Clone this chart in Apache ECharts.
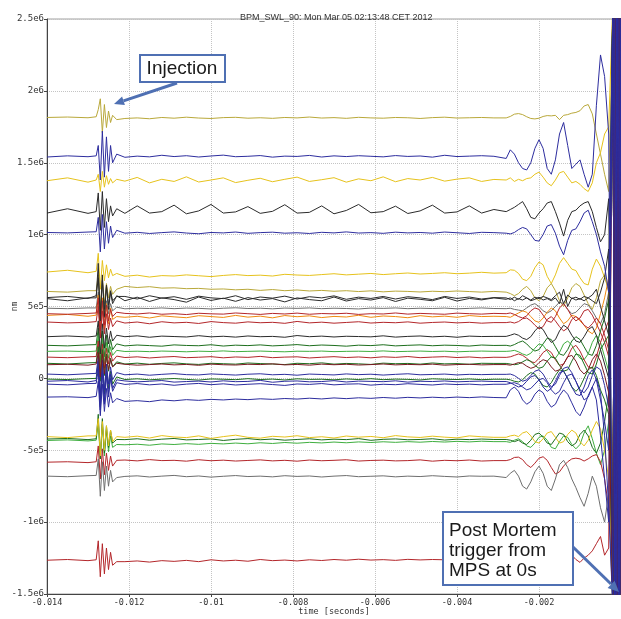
<!DOCTYPE html>
<html>
<head>
<meta charset="utf-8">
<title>BPM_SWL_90</title>
<script src="https://cdn.jsdelivr.net/npm/echarts@6/dist/echarts.min.js"></script>
<style>
  html, body { margin: 0; padding: 0; background: #fff; }
  #bpm-chart { width: 621px; height: 619px; }
</style>
</head>
<body>
<div id="bpm-chart"></div>
<script>
// time axis (seconds): before injection | injection | flat part | blow-up | post mortem band
const times = [
  -0.014, -0.0135, -0.013,
  -0.0128, -0.01275, -0.0127, -0.01265, -0.0126, -0.01255, -0.0125, -0.01245, -0.0124, -0.0123,
  -0.0121, -0.0118, -0.0115, -0.0112, -0.0109, -0.0106, -0.0103, -0.0100, -0.0097, -0.0094,
  -0.0091, -0.0088, -0.0085, -0.0082, -0.0079, -0.0076, -0.0073, -0.0070, -0.0067, -0.0064,
  -0.0061, -0.0058, -0.0055, -0.0052, -0.0049, -0.0046, -0.0043, -0.0040, -0.0037, -0.0034, -0.0031,
  -0.0028, -0.0027, -0.0026, -0.0025, -0.0024, -0.0023, -0.0022, -0.0021, -0.0020, -0.0019,
  -0.0018, -0.0017, -0.0016, -0.0015, -0.0014, -0.0013, -0.0012, -0.0011, -0.0010, -0.0009,
  -0.0008, -0.0007, -0.0006, -0.0005, -0.0004, -0.0003,
  -0.0002, -0.00015, -0.0001, -0.00005, 0
];

// BPM readings in thousands of nm
const oliveTop = [
  1815, 1818, 1813,
  1820, 1870, 1945, 1710, 1905, 1745, 1860, 1780, 1830, 1800,
  1808, 1812, 1806, 1815, 1810, 1817, 1811, 1808, 1814, 1816,
  1810, 1813, 1809, 1815, 1812, 1818, 1811, 1814, 1809, 1816,
  1812, 1810, 1815, 1813, 1808, 1814, 1817, 1811, 1813, 1815, 1812,
  1812, 1822, 1838, 1842, 1835, 1820, 1808, 1805, 1810, 1822,
  1828, 1826, 1830, 1800, 1830, 1835, 1845, 1850, 1862, 1895,
  1905, 1840, 1700, 1560, 1420, 1300,
  2600, -1600, 2600, -1600, 2600
];
const blueTop = [
  1540, 1548, 1542,
  1548, 1620, 1380, 1720, 1400, 1680, 1440, 1620, 1500, 1560,
  1538, 1546, 1541, 1552, 1543, 1549, 1540, 1547, 1553, 1542,
  1545, 1550, 1539, 1546, 1544, 1551, 1540, 1548, 1543, 1549,
  1545, 1541, 1550, 1544, 1547, 1539, 1552, 1543, 1546, 1549, 1545,
  1530, 1590, 1560, 1500, 1460, 1450, 1500, 1600, 1660, 1600,
  1460, 1420, 1520, 1700, 1780, 1620, 1460, 1490, 1520, 1420,
  1330, 1420, 1900, 2250, 2100, 1700,
  -1600, 2600, -1600, 2600, -1600
];
const yellowTop = [
  1375, 1395, 1365,
  1380, 1420, 1300, 1440, 1330, 1410, 1350, 1390, 1360, 1385,
  1372, 1398, 1360, 1385, 1370, 1402, 1366, 1380, 1395, 1362,
  1378, 1392, 1368, 1385, 1400, 1370, 1382, 1396, 1365, 1388,
  1375, 1402, 1368, 1390, 1380, 1398, 1372, 1386, 1395, 1370, 1384,
  1380, 1395, 1370, 1385, 1375, 1390, 1395, 1420, 1435, 1400,
  1360, 1340, 1380, 1430, 1440, 1400, 1360, 1370, 1350, 1320,
  1300, 1360, 1500, 1570, 1700, 1750,
  2600, -1600, 2600, -1600, 2600
];
const blackTop = [
  1150, 1180, 1148,
  1160, 1290, 1030, 1300, 1050, 1250, 1090, 1200, 1130, 1180,
  1148, 1200, 1150, 1160, 1205, 1145, 1165, 1210, 1150, 1158,
  1195, 1148, 1162, 1208, 1150, 1155, 1200, 1145, 1168, 1210,
  1152, 1160, 1198, 1147, 1165, 1205, 1150, 1158, 1200, 1150, 1175,
  1160, 1175, 1190, 1210, 1230, 1180, 1120, 1110, 1150, 1180,
  1220, 1230, 1160, 1080, 990, 1100, 1160, 1170, 1200, 1220,
  1230, 1160, 1050, 950, 1000, 1250,
  -1600, 2600, -1600, 2600, -1600
];
const blue1e6 = [
  1015, 1012, 1018,
  1020, 1120, 880, 1140, 900, 1090, 940, 1060, 980, 1030,
  1010, 1016, 1008, 1014, 1019, 1011, 1006, 1015, 1012, 1018,
  1009, 1014, 1017, 1010, 1013, 1008, 1016, 1012, 1019, 1011,
  1014, 1009, 1017, 1012, 1015, 1010, 1018, 1013, 1008, 1016, 1014,
  1010, 1005, 1015, 1035, 1050, 1040, 1000, 960, 955, 1000,
  1060, 1070, 1010, 920, 860, 960, 1030, 1040, 1090, 1150,
  1170, 1090, 1000, 880, 780, 600,
  2600, -1600, 2600, -1600, 2600
];
const yellow740 = [
  740, 752, 735,
  745, 870, 620, 820, 680, 790, 700, 760, 715, 730,
  710, 718, 705, 715, 712, 720, 714, 708, 716, 722,
  715, 718, 712, 724, 719, 716, 722, 728, 720, 725,
  730, 722, 728, 733, 726, 730, 735, 728, 732, 738, 732,
  735, 755, 752, 730, 690, 680, 710, 770, 810, 790,
  710, 660, 720, 800, 840, 800, 760, 750, 700, 660,
  650, 760, 830, 780, 700, 620,
  -1600, 2600, -1600, 2600, -1600
];
const olive605 = [
  605, 600, 610,
  610, 720, 490, 700, 520, 660, 560, 640, 585, 620,
  640, 632, 638, 628, 630, 624, 626, 620, 622, 616,
  620, 612, 618, 610, 615, 608, 612, 606, 610, 604,
  609, 602, 607, 605, 601, 606, 603, 608, 604, 600, 605,
  600, 590, 575, 590, 620, 640, 610, 560, 540, 570,
  630, 660, 610, 540, 500, 560, 630, 660, 640, 580,
  520, 480, 560, 680, 720, 600,
  2600, -1600, 2600, -1600, 2600
];
const black550 = [
  555, 540, 560,
  560, 800, 400, 720, 430, 650, 480, 600, 520, 575,
  540, 565, 535, 560, 548, 530, 566, 542, 558, 536,
  562, 545, 555, 532, 560, 548, 540, 566, 538, 555,
  545, 562, 535, 558, 550, 540, 564, 538, 556, 546, 560,
  550, 560, 540, 555, 545, 560, 540, 550, 565, 545,
  555, 540, 560, 520, 620, 500, 560, 545, 555, 540,
  560, 580, 620, 500, 400, 300,
  2600, -1600, 2600, -1600, 2600
];
const black560 = [
  562, 570, 556,
  575, 700, 450, 680, 480, 640, 510, 610, 540, 570,
  570, 552, 575, 558, 568, 550, 572, 560, 555, 575,
  548, 566, 558, 572, 552, 568, 560, 574, 550, 565,
  556, 570, 552, 568, 560, 548, 570, 556, 566, 552, 562,
  560, 548, 565, 550, 575, 560, 545, 565, 555, 570,
  560, 548, 575, 600, 520, 580, 555, 565, 550, 570,
  560, 540, 520, 600, 700, 900,
  -1600, 2600, -1600, 2600, -1600
];
const grey487 = [
  488, 485, 490,
  490, 600, 380, 560, 420, 540, 450, 520, 470, 495,
  484, 488, 486, 490, 485, 489, 487, 483, 488, 491,
  486, 488, 484, 489, 487, 490, 485, 488, 486, 483,
  489, 487, 490, 485, 488, 486, 489, 484, 487, 490, 486,
  485, 488, 480, 475, 470, 490, 510, 520, 500, 470,
  455, 470, 500, 530, 520, 480, 450, 460, 490, 520,
  510, 470, 420, 380, 450, 600,
  2600, -1600, 2600, -1600, 2600
];
const orange430 = [
  438, 445, 432,
  440, 580, 300, 560, 340, 520, 380, 490, 410, 430,
  425, 432, 420, 435, 428, 422, 436, 430, 424, 438,
  426, 433, 421, 437, 429, 435, 423, 431, 427, 439,
  425, 434, 430, 422, 436, 428, 433, 425, 437, 430, 432,
  430, 425, 440, 455, 470, 460, 430, 400, 390, 420,
  460, 490, 470, 420, 380, 400, 440, 430, 400, 370,
  330, 310, 350, 450, 560, 700,
  -1600, 2600, -1600, 2600, -1600
];
const red450 = [
  450, 446, 452,
  455, 560, 330, 540, 370, 510, 400, 480, 430, 460,
  452, 448, 455, 446, 450, 444, 453, 449, 447, 455,
  450, 445, 452, 448, 454, 446, 451, 449, 453, 445,
  450, 448, 455, 447, 452, 449, 446, 454, 450, 447, 452,
  450, 455, 445, 430, 420, 435, 470, 490, 480, 440,
  400, 390, 430, 490, 520, 480, 430, 400, 420, 470,
  480, 440, 380, 320, 250, 150,
  2600, -1600, 2600, -1600, 2600
];
const red390 = [
  392, 386, 390,
  395, 500, 280, 470, 310, 450, 340, 420, 360, 400,
  385, 392, 380, 394, 386, 390, 382, 395, 388, 384,
  393, 387, 390, 383, 396, 386, 391, 384, 389, 394,
  385, 390, 387, 393, 384, 389, 392, 386, 390, 384, 388,
  388, 392, 385, 395, 415, 420, 400, 370, 345, 360,
  410, 430, 400, 360, 330, 350, 410, 430, 410, 370,
  350, 380, 420, 380, 300, 200,
  -1600, 2600, -1600, 2600, -1600
];
const black292 = [
  290, 295, 288,
  295, 400, 170, 380, 210, 350, 240, 330, 260, 300,
  290, 296, 286, 294, 291, 288, 297, 289, 293, 287,
  295, 290, 292, 286, 298, 290, 294, 288, 293, 291,
  289, 296, 287, 292, 295, 289, 293, 286, 294, 291, 292,
  292, 300, 310, 300, 280, 270, 290, 330, 360, 340,
  290, 250, 270, 330, 370, 350, 300, 260, 250, 290,
  340, 360, 300, 200, 100, 0,
  2600, -1600, 2600, -1600, 2600
];
const dkgreen229 = [
  230, 226, 233,
  235, 350, 110, 330, 150, 300, 180, 270, 200, 240,
  226, 232, 228, 224, 233, 229, 227, 234, 225, 231,
  228, 233, 226, 230, 235, 227, 232, 229, 224, 231,
  228, 234, 226, 230, 233, 227, 231, 229, 225, 232, 229,
  230, 225, 235, 250, 260, 240, 210, 190, 200, 240,
  280, 270, 220, 170, 160, 200, 260, 290, 270, 220,
  170, 160, 230, 330, 420, 550,
  -1600, 2600, -1600, 2600, -1600
];
const green188 = [
  188, 190, 186,
  190, 300, 60, 280, 100, 250, 140, 220, 160, 195,
  187, 189, 186, 190, 188, 185, 189, 187, 191, 186,
  188, 190, 187, 185, 189, 188, 190, 186, 188, 189,
  187, 191, 186, 188, 190, 187, 189, 185, 188, 190, 188,
  188, 190, 195, 185, 170, 160, 175, 210, 240, 230,
  190, 150, 140, 180, 240, 260, 230, 180, 140, 130,
  170, 250, 300, 250, 150, 50,
  2600, -1600, 2600, -1600, 2600
];
const red146 = [
  148, 144, 150,
  152, 260, 30, 240, 70, 210, 100, 180, 120, 155,
  145, 150, 142, 148, 152, 144, 147, 151, 143, 149,
  146, 153, 144, 148, 150, 142, 147, 151, 145, 149,
  143, 150, 146, 152, 144, 148, 151, 145, 149, 143, 147,
  146, 150, 160, 170, 160, 140, 115, 110, 140, 180,
  200, 180, 130, 90, 100, 150, 210, 230, 190, 130,
  80, 70, 150, 250, 330, 400,
  -1600, 2600, -1600, 2600, -1600
];
const dkgreen104 = [
  105, 100, 108,
  110, 220, -20, 200, 20, 170, 50, 140, 80, 115,
  100, 106, 98, 104, 108, 101, 97, 105, 102, 99,
  107, 103, 100, 96, 105, 102, 108, 99, 104, 101,
  97, 106, 102, 104, 99, 107, 101, 103, 98, 105, 104,
  104, 100, 95, 100, 115, 130, 120, 90, 70, 80,
  120, 150, 140, 90, 50, 60, 120, 170, 160, 100,
  40, 30, 100, 200, 250, 300,
  2600, -1600, 2600, -1600, 2600
];
const dkred96 = [
  95, 98, 92,
  100, 180, 10, 170, 30, 150, 60, 130, 80, 105,
  98, 92, 96, 100, 94, 97, 91, 99, 95, 93,
  98, 96, 101, 94, 97, 92, 99, 95, 98, 93,
  96, 100, 94, 97, 95, 99, 92, 96, 98, 94, 96,
  96, 92, 100, 110, 105, 85, 70, 80, 110, 130,
  120, 80, 50, 60, 100, 150, 160, 120, 60, 30,
  60, 130, 170, 120, 20, -100,
  -1600, 2600, -1600, 2600, -1600
];
const blue28 = [
  30, 25, 32,
  35, 150, -120, 130, -80, 100, -40, 80, -10, 40,
  25, 30, 22, 28, 33, 26, 24, 31, 27, 23,
  29, 32, 25, 28, 22, 30, 27, 24, 31, 26,
  29, 23, 28, 32, 25, 27, 30, 24, 28, 26, 28,
  28, 30, 20, 0, -20, -10, 20, 50, 60, 30,
  -20, -60, -40, 20, 70, 80, 40, -20, -80, -100,
  -60, 20, 80, 60, -50, -200,
  2600, -1600, 2600, -1600, 2600
];
const dkgreenZero = [
  -5, -8, -2,
  0, 120, -150, 100, -110, 80, -70, 50, -40, 10,
  -8, -3, -10, -5, -1, -7, -12, -4, -6, -9,
  -2, -8, -5, -11, -3, -7, -6, -10, -4, -8,
  -2, -9, -5, -7, -11, -3, -6, -8, -4, -9, -6,
  -6, -10, -20, -25, -10, 20, 40, 30, -10, -50,
  -60, -30, 20, 60, 50, 0, -60, -90, -60, 0,
  60, 80, 20, -80, -150, -250,
  -1600, 2600, -1600, 2600, -1600
];
const blueMinus20 = [
  -20, -15, -25,
  -15, 100, -200, 80, -160, 60, -110, 30, -70, -10,
  -18, -24, -20, -15, -26, -22, -19, -25, -17, -23,
  -21, -14, -27, -20, -18, -24, -22, -16, -25, -19,
  -21, -23, -17, -26, -20, -22, -18, -24, -21, -19, -22,
  -22, -30, -45, -60, -50, -20, 10, 20, -10, -60,
  -90, -70, -20, 40, 50, 0, -60, -110, -120, -60,
  20, 60, -10, -150, -300, -500,
  2600, -1600, 2600, -1600, 2600
];
const blueMinus40 = [
  -40, -45, -36,
  -35, 60, -220, 40, -180, 20, -130, 0, -90, -30,
  -42, -36, -45, -39, -48, -40, -35, -44, -38, -46,
  -41, -37, -43, -49, -39, -42, -36, -45, -40, -38,
  -47, -41, -44, -37, -42, -46, -39, -43, -40, -45, -41,
  -41, -35, -30, -40, -60, -80, -70, -40, -10, 0,
  -30, -80, -110, -90, -30, 20, 30, -20, -90, -150,
  -130, -60, 0, -100, -400, -900,
  -1600, 2600, -1600, 2600, -1600
];
const blueMinus135 = [
  -130, -128, -134,
  -125, -20, -260, -40, -230, -70, -200, -100, -170, -140,
  -160, -155, -162, -150, -156, -148, -153, -146, -150, -144,
  -148, -142, -146, -140, -144, -138, -143, -136, -141, -135,
  -139, -133, -138, -132, -136, -131, -135, -130, -134, -129, -133,
  -135, -80, -60, -90, -150, -180, -160, -110, -80, -100,
  -160, -200, -180, -120, -80, -110, -170, -230, -260, -200,
  -120, -60, -150, -400, -700, -1000,
  2600, -1600, 2600, -1600, 2600
];
const yellowMinus410 = [
  -405, -412, -400,
  -400, -280, -540, -300, -500, -330, -470, -360, -440, -405,
  -410, -402, -415, -398, -408, -412, -400, -418, -405, -395,
  -410, -416, -403, -408, -399, -412, -406, -415, -401, -409,
  -404, -413, -398, -407, -411, -402, -409, -414, -400, -406, -410,
  -410, -400, -395, -405, -380, -370, -400, -440, -450, -420,
  -380, -370, -410, -450, -440, -390, -360, -380, -440, -470,
  -430, -360, -300, -350, -500, -700,
  -1600, 2600, -1600, 2600, -1600
];
const dkgreenMinus425 = [
  -422, -418, -426,
  -420, -250, -560, -280, -520, -330, -480, -360, -450, -425,
  -426, -420, -430, -423, -418, -428, -425, -421, -432, -424,
  -419, -427, -422, -430, -425, -420, -428, -423, -426, -419,
  -431, -424, -421, -427, -425, -420, -429, -423, -426, -422, -425,
  -425, -430, -440, -430, -450, -460, -430, -390, -380, -410,
  -450, -460, -420, -380, -390, -440, -470, -450, -390, -360,
  -400, -480, -520, -450, -300, -100,
  2600, -1600, 2600, -1600, 2600
];
const greenMinus445 = [
  -432, -428, -435,
  -430, -300, -560, -320, -540, -360, -510, -400, -480, -460,
  -462, -458, -465, -456, -460, -454, -459, -452, -456, -450,
  -455, -448, -453, -446, -451, -445, -449, -443, -448, -442,
  -446, -441, -445, -440, -444, -439, -443, -438, -442, -437, -440,
  -440, -445, -430, -420, -440, -470, -480, -450, -410, -400,
  -430, -480, -490, -440, -400, -410, -460, -490, -460, -380,
  -330, -420, -520, -600, -500, -300,
  -1600, 2600, -1600, 2600, -1600
];
const redMinus575 = [
  -583, -580, -586,
  -580, -470, -700, -490, -670, -520, -640, -540, -610, -570,
  -568, -574, -565, -572, -570, -576, -566, -573, -569, -575,
  -571, -567, -574, -570, -576, -568, -573, -570, -566, -575,
  -571, -569, -574, -572, -567, -576, -570, -573, -568, -575, -572,
  -572, -565, -550, -548, -565, -600, -620, -590, -555, -545,
  -570, -620, -665, -650, -610, -580, -560, -555, -560, -575,
  -560, -540, -530, -580, -700, -900,
  2600, -1600, 2600, -1600, 2600
];
const greyMinus680 = [
  -680, -684, -677,
  -675, -560, -820, -580, -780, -610, -750, -640, -720, -690,
  -682, -678, -686, -680, -675, -684, -679, -687, -681, -676,
  -683, -680, -685, -677, -682, -679, -686, -680, -676, -684,
  -681, -678, -685, -680, -683, -677, -682, -686, -679, -681, -680,
  -690, -660, -640, -680, -750, -770, -720, -650, -610, -660,
  -750, -780, -700, -600, -570, -620, -700, -760, -830, -890,
  -800, -680, -750, -900, -1000, -800,
  -1600, 2600, -1600, 2600, -1600
];
const redBottom = [
  -1265, -1260, -1268,
  -1262, -1130, -1380, -1150, -1360, -1180, -1330, -1210, -1300, -1275,
  -1275, -1270, -1278, -1268, -1273, -1266, -1275, -1262, -1270, -1265,
  -1272, -1260, -1268, -1264, -1270, -1262, -1267, -1260, -1265, -1258,
  -1264, -1261, -1266, -1259, -1263, -1260, -1262, -1258, -1264, -1260, -1262,
  -1262, -1258, -1265, -1260, -1255, -1262, -1258, -1265, -1260, -1256,
  -1262, -1268, -1260, -1240, -1225, -1210, -1230, -1260, -1280, -1250,
  -1230, -1200, -1150, -1100, -1230, -1180,
  2600, -1600, 2600, -1600, 2600
];

const OLIVE = "#b9a83a", YELLOW = "#e6c21c", BLUE = "#2d2d9e", BLACK = "#2b2b2b",
  GREY = "#6e6e6e", RED = "#b3262a", DKRED = "#7a1a22", ORANGE = "#ef8a10",
  GREEN = "#3fae3f", DKGREEN = "#1d6e1d";

// drawing order: dark traces last so they sit on top in the post mortem band
const traces = [
  {name: "oliveTop", color: OLIVE, data: oliveTop},
  {name: "yellowTop", color: YELLOW, data: yellowTop},
  {name: "yellow740", color: YELLOW, data: yellow740},
  {name: "olive605", color: OLIVE, data: olive605},
  {name: "grey487", color: GREY, data: grey487},
  {name: "orange430", color: ORANGE, data: orange430},
  {name: "red450", color: RED, data: red450},
  {name: "red390", color: RED, data: red390},
  {name: "dkgreen229", color: DKGREEN, data: dkgreen229},
  {name: "green188", color: GREEN, data: green188},
  {name: "red146", color: RED, data: red146},
  {name: "dkgreen104", color: DKGREEN, data: dkgreen104},
  {name: "dkgreenZero", color: DKGREEN, data: dkgreenZero},
  {name: "greenMinus445", color: GREEN, data: greenMinus445},
  {name: "dkgreenMinus425", color: DKGREEN, data: dkgreenMinus425},
  {name: "yellowMinus410", color: YELLOW, data: yellowMinus410},
  {name: "redMinus575", color: RED, data: redMinus575},
  {name: "greyMinus680", color: GREY, data: greyMinus680},
  {name: "redBottom", color: RED, data: redBottom},
  {name: "black292", color: BLACK, data: black292},
  {name: "blue28", color: BLUE, data: blue28},
  {name: "black550", color: BLACK, data: black550},
  {name: "blueMinus20", color: BLUE, data: blueMinus20},
  {name: "blueMinus40", color: BLUE, data: blueMinus40},
  {name: "black560", color: BLACK, data: black560},
  {name: "blueMinus135", color: BLUE, data: blueMinus135},
  {name: "blackTop", color: BLACK, data: blackTop},
  {name: "blue1e6", color: BLUE, data: blue1e6},
  {name: "dkred96", color: DKRED, data: dkred96},
  {name: "blueTop", color: BLUE, data: blueTop}
];

traces.forEach((tr) => {
  if (tr.data.length !== times.length) {
    console.error("length mismatch", tr.name, tr.data.length, times.length);
  }
});

const BOX = "#4f70b3";
const MONO = "'DejaVu Sans Mono', monospace";
const SANS = "'Liberation Sans', Arial, sans-serif";

const chart = echarts.init(document.getElementById("bpm-chart"));

const option = {
  animation: false,
  backgroundColor: "#ffffff",
  title: {
    text: "BPM_SWL_90: Mon Mar 05 02:13:48 CET 2012",
    left: 235,
    top: 8,
    textStyle: {fontSize: 9, fontWeight: "normal", color: "#333", fontFamily: SANS}
  },
  grid: {
    left: 47, right: 0, top: 19, bottom: 25,
    containLabel: false,
    outerBoundsMode: "none",
    show: true, borderColor: "#a0a0a0", borderWidth: 1
  },
  xAxis: {
    type: "value",
    min: -0.014,
    max: 0,
    interval: 0.002,
    name: "time [seconds]",
    nameLocation: "middle",
    nameGap: 13,
    nameMoveOverlap: false,
    nameTextStyle: {fontFamily: MONO, fontSize: 8.5, color: "#333"},
    axisLine: {show: true, onZero: false, lineStyle: {color: "#444"}},
    axisTick: {show: true, length: 3, lineStyle: {color: "#444"}},
    axisLabel: {
      fontFamily: MONO, fontSize: 8.5, color: "#333", margin: 4,
      showMaxLabel: false,
      formatter: (v) => (v === 0 ? "" : String(parseFloat(v.toFixed(3))))
    },
    splitLine: {show: true, lineStyle: {color: "#c4c4c4", type: "dotted"}}
  },
  yAxis: {
    type: "value",
    min: -1500000,
    max: 2500000,
    interval: 500000,
    name: "nm",
    nameLocation: "middle",
    nameGap: 28,
    nameRotate: 90,
    nameMoveOverlap: false,
    nameTextStyle: {fontFamily: MONO, fontSize: 8, color: "#333"},
    axisLine: {show: true, onZero: false, lineStyle: {color: "#444"}},
    axisTick: {show: true, length: 3, lineStyle: {color: "#444"}},
    axisLabel: {
      fontFamily: MONO, fontSize: 9, color: "#333", margin: 3,
      formatter: (v) => (v === 0 ? "0" : v.toExponential().replace("e+", "e"))
    },
    splitLine: {show: true, lineStyle: {color: "#c4c4c4", type: "dotted"}}
  },
  series: traces.map((tr) => ({
    name: tr.name,
    type: "line",
    showSymbol: false,
    symbol: "none",
    clip: true,
    lineStyle: {color: tr.color, width: 1},
    itemStyle: {color: tr.color},
    data: times.map((t, i) => [t, tr.data[i] * 1000])
  })),
  graphic: [
    // "Injection" call-out
    {
      type: "rect", z: 100,
      shape: {x: 140, y: 55, width: 85, height: 27},
      style: {fill: "#fff", stroke: BOX, lineWidth: 2}
    },
    {
      type: "text", z: 101, x: 182, y: 69,
      style: {text: "Injection", font: "19px " + SANS, fill: "#1a1a1a", align: "center", verticalAlign: "middle"}
    },
    {
      type: "line", z: 100,
      shape: {x1: 177, y1: 83, x2: 123.5, y2: 100.8},
      style: {stroke: BOX, lineWidth: 3}
    },
    {
      type: "polygon", z: 100,
      shape: {points: [[114, 104], [124.9, 105.1], [122.1, 96.5]]},
      style: {fill: BOX}
    },
    // "Post Mortem" call-out
    {
      type: "rect", z: 100,
      shape: {x: 443, y: 512, width: 130, height: 73},
      style: {fill: "#fff", stroke: BOX, lineWidth: 2}
    },
    {
      type: "text", z: 101, x: 449, y: 521,
      style: {
        text: "Post Mortem\ntrigger from\nMPS at 0s",
        font: "19px " + SANS, lineHeight: 20, fill: "#1a1a1a",
        align: "left", verticalAlign: "top"
      }
    },
    {
      type: "line", z: 100,
      shape: {x1: 573, y1: 547, x2: 611, y2: 584},
      style: {stroke: BOX, lineWidth: 3}
    },
    {
      type: "polygon", z: 100,
      shape: {points: [[619, 592], [607.6, 587.9], [614.6, 580.7]]},
      style: {fill: BOX}
    }
  ]
};

chart.setOption(option);
</script>
</body>
</html>
